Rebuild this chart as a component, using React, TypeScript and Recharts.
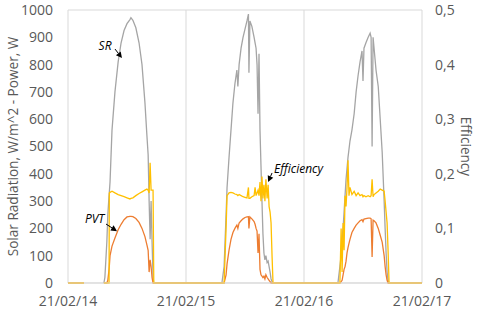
import {
  CartesianGrid,
  Line,
  LineChart,
  ReferenceDot,
  ReferenceLine,
  XAxis,
  YAxis,
} from "recharts";

// Three days of logged data, x = hours from 21/02/14 00:00.
// null = logger gap (no data recorded).
const hours = [
  0, 3.25, 5.3, 7.3, 7.5, 7.9, 8.1, 8.35, 8.4, 8.55, 8.95, 9.55, 10.2, 10.8, 11.4, 12.0, 12.6, 12.8,
  13.2, 13.8, 14.45, 15.05, 15.65, 16.05, 16.3, 16.5, 16.7, 16.9, 17.1, 17.3, 17.45,
  24, 31.3, 31.75, 32.15, 32.35, 32.75, 33.15, 33.55, 33.95, 34.35, 34.55, 34.8, 35.2, 35.6, 36.0,
  36.4, 36.7, 36.8, 37.0, 37.4, 37.85, 38.05, 38.25, 38.45, 38.65, 38.85, 39.05, 39.25, 39.45,
  39.65, 39.85, 40.05, 40.25, 40.5, 40.7, 40.9, 41.1, 41.3, 41.5, 41.7,
  48, 54.9, 55.3, 55.55, 55.75, 55.95, 56.15, 56.35, 56.55, 56.75, 56.95, 57.15, 57.35, 57.75,
  58.2, 58.6, 59.0, 59.4, 59.8, 60.0, 60.2, 60.6, 61.05, 61.45, 61.65, 61.85, 62.05, 62.25, 62.65,
  63.1, 63.5, 63.9, 64.3, 64.5, 64.7, 64.9, 65.1, 65.3, 72,
];

const srValues = [
  0, 0, null, 0, 20, 150, 250, 320, 330, 370, 560, 700, 810, 880, 925, 950, 965, 972,
  962, 935, 880, 800, 660, 540, 470, 300, 160, 300, 150, 20, 0,
  0, 0, 60, 250, 350, 460, 560, 660, 730, 780, 720, 800, 860, 900, 930,
  960, 985, 770, 960, 940, 900, 880, 860, 800, 620, 840, 560, 430, 300,
  180, 110, 85, 100, 75, 80, 60, 40, 15, 5, 0,
  0, 0, 60, 100, 160, 200, 260, 320, 380, 420, 460, 490, 520, 560,
  620, 700, 760, 810, 850, 740, 860, 880, 900, 915, 900, 500, 900, 860, 780,
  720, 600, 480, 300, 200, 110, 40, 10, 0, 0,
];

const pvtValues = [
  0, 0, null, 0, 0, 0, 10, 50, 60, 100, 135, 165, 195, 215, 232, 242, 244, 244,
  243, 236, 222, 200, 170, 140, 120, 40, 85, 60, 20, 0, 0,
  0, 0, 0, 30, 70, 120, 160, 185, 200, 212, 200, 220, 228, 235, 240,
  242, 243, 200, 242, 235, 225, 215, 200, 190, 110, 180, 50, 30, 25,
  20, 25, 15, 30, 20, 15, 10, 5, 0, 0, 0,
  0, 0, 0, 5, 10, 30, 50, 60, 80, 110, 130, 145, 160, 185,
  200, 212, 220, 228, 232, 225, 234, 236, 238, 238, 235, 95, 230, 228, 220,
  200, 175, 150, 100, 60, 30, 10, 0, 0, 0,
];

const effValues = [
  0, 0, null, 0, 0, 0, 0, 0, 0.165, 0.166, 0.168, 0.165, 0.162, 0.16, 0.158, 0.156, 0.154, 0.155,
  0.156, 0.16, 0.164, 0.167, 0.17, 0.172, 0.17, 0.165, 0.22, 0.17, 0.17, 0.17, 0,
  0, 0, 0, 0.1, 0.16, 0.165, 0.166, 0.165, 0.163, 0.162, 0.16, 0.162, 0.16, 0.158, 0.157,
  0.156, 0.175, 0.155, 0.155, 0.158, 0.16, 0.175, 0.16, 0.165, 0.17, 0.16, 0.185, 0.15, 0.195,
  0.155, 0.18, 0.15, 0.19, 0.155, 0.18, 0.14, 0.13, 0.11, 0.05, 0,
  0, 0, 0, 0.1, 0.02, 0.11, 0.06, 0.16, 0.14, 0.175, 0.225, 0.16, 0.175, 0.162,
  0.168, 0.16, 0.165, 0.16, 0.162, 0.158, 0.16, 0.158, 0.16, 0.158, 0.16, 0.19, 0.158, 0.162, 0.165,
  0.168, 0.172, 0.17, 0.168, 0.15, 0.13, 0.11, 0.06, 0, 0,
];

const dayTicks = [0, 24, 48, 72];
const dayLabels = ["21/02/14", "21/02/15", "21/02/16", "21/02/17"];
const leftTicks = [0, 100, 200, 300, 400, 500, 600, 700, 800, 900, 1000];
const rightTicks = [0, 0.1, 0.2, 0.3, 0.4, 0.5];

// callouts (in data units on the left axis)
const calloutText = ["SR", "PVT", "Efficiency"];
const calloutAnchor = ["end", "end", "start"];
const calloutTextHour = [8.85, 7.4, 41.9];
const calloutTextValue = [870, 235, 421];
const arrowFromHour = [9.56, 7.73, 41.5];
const arrowFromValue = [857, 216, 403];
const arrowToHour = [10.98, 9.97, 40.7];
const arrowToValue = [824, 190, 370];

const data = hours.map((h, i) => ({
  h,
  sr: srValues[i],
  pvt: pvtValues[i],
  eff: effValues[i],
}));

const FONT = "'Open Sans', sans-serif";
const TEXT = "#595959";

function Arrow(props: any) {
  const { x1, y1, x2, y2 } = props;
  if (x1 == null) return null;
  const ang = Math.atan2(y2 - y1, x2 - x1);
  const len = 6;
  const wid = 3;
  const bx = x2 - len * Math.cos(ang);
  const by = y2 - len * Math.sin(ang);
  const px = -Math.sin(ang) * wid;
  const py = Math.cos(ang) * wid;
  return (
    <g>
      <line x1={x1} y1={y1} x2={bx} y2={by} stroke="#000" strokeWidth={1} />
      <polygon points={`${x2},${y2} ${bx + px},${by + py} ${bx - px},${by - py}`} fill="#000" />
    </g>
  );
}

export default function App() {
  return (
    <div style={{ position: "absolute", left: 0, top: 0, width: 480, height: 314, background: "#fff" }}>
      <LineChart
        width={480}
        height={314}
        data={data}
        margin={{ top: 10, right: 0, bottom: 0, left: 0 }}
        style={{ fontFamily: FONT }}
      >
        <CartesianGrid stroke="#d9d9d9" strokeWidth={1} />
        <XAxis
          dataKey="h"
          type="number"
          domain={[0, 72]}
          ticks={dayTicks}
          tickFormatter={(v: number) => dayLabels[dayTicks.indexOf(v)]}
          height={31}
          tickSize={0}
          tickMargin={13}
          axisLine={{ stroke: "#d9d9d9" }}
          tick={{ fill: TEXT, fontSize: 14, fontFamily: FONT }}
        />
        <YAxis
          yAxisId="left"
          domain={[0, 1000]}
          ticks={leftTicks}
          width={68}
          tickSize={0}
          tickMargin={15}
          axisLine={false}
          tick={{ fill: TEXT, fontSize: 14, fontFamily: FONT }}
          label={{
            content: (p: any) => {
              const vb = p.viewBox;
              const cx = vb.x + 12;
              const cy = vb.y + vb.height / 2;
              return (
                <text
                  x={cx}
                  y={cy}
                  transform={`rotate(-90 ${cx} ${cy})`}
                  textAnchor="middle"
                  dominantBaseline="central"
                  fill={TEXT}
                  fontSize={13.6}
                  fontFamily={FONT}
                >
                  Solar Radiation, W/m^2 - Power, W
                </text>
              );
            },
          }}
        />
        <YAxis
          yAxisId="right"
          orientation="right"
          domain={[0, 0.5]}
          ticks={rightTicks}
          width={58}
          tickSize={0}
          tickMargin={13}
          axisLine={false}
          tickFormatter={(v: number) => String(v).replace(".", ",")}
          tick={{ fill: TEXT, fontSize: 14, fontFamily: FONT }}
          label={{
            content: (p: any) => {
              const vb = p.viewBox;
              const cx = vb.x + 44;
              const cy = vb.y + vb.height / 2;
              return (
                <text
                  x={cx}
                  y={cy}
                  transform={`rotate(90 ${cx} ${cy})`}
                  textAnchor="middle"
                  dominantBaseline="central"
                  fill={TEXT}
                  fontSize={13.6}
                  fontFamily={FONT}
                >
                  Efficiency
                </text>
              );
            },
          }}
        />
        <Line
          yAxisId="left"
          type="linear"
          dataKey="sr"
          stroke="#a5a5a5"
          strokeWidth={1.3}
          dot={false}
          isAnimationActive={false}
        />
        <Line
          yAxisId="left"
          type="linear"
          dataKey="pvt"
          stroke="#ed7d31"
          strokeWidth={1.3}
          dot={false}
          isAnimationActive={false}
        />
        <Line
          yAxisId="right"
          type="linear"
          dataKey="eff"
          stroke="#ffc000"
          strokeWidth={1.3}
          dot={false}
          isAnimationActive={false}
        />
        {calloutText.map((t, i) => (
          <ReferenceLine
            key={`a${i}`}
            yAxisId="left"
            segment={[
              { x: arrowFromHour[i], y: arrowFromValue[i] },
              { x: arrowToHour[i], y: arrowToValue[i] },
            ]}
            shape={Arrow}
          />
        ))}
        {calloutText.map((t, i) => (
          <ReferenceDot
            key={`t${i}`}
            yAxisId="left"
            x={calloutTextHour[i]}
            y={calloutTextValue[i]}
            shape={(p: any) => (
              <text
                x={p.cx}
                y={p.cy}
                textAnchor={calloutAnchor[i] as any}
                dominantBaseline="central"
                fontStyle="italic"
                fontSize={12}
                fontFamily={FONT}
                fill="#000"
              >
                {t}
              </text>
            )}
          />
        ))}
      </LineChart>
    </div>
  );
}
